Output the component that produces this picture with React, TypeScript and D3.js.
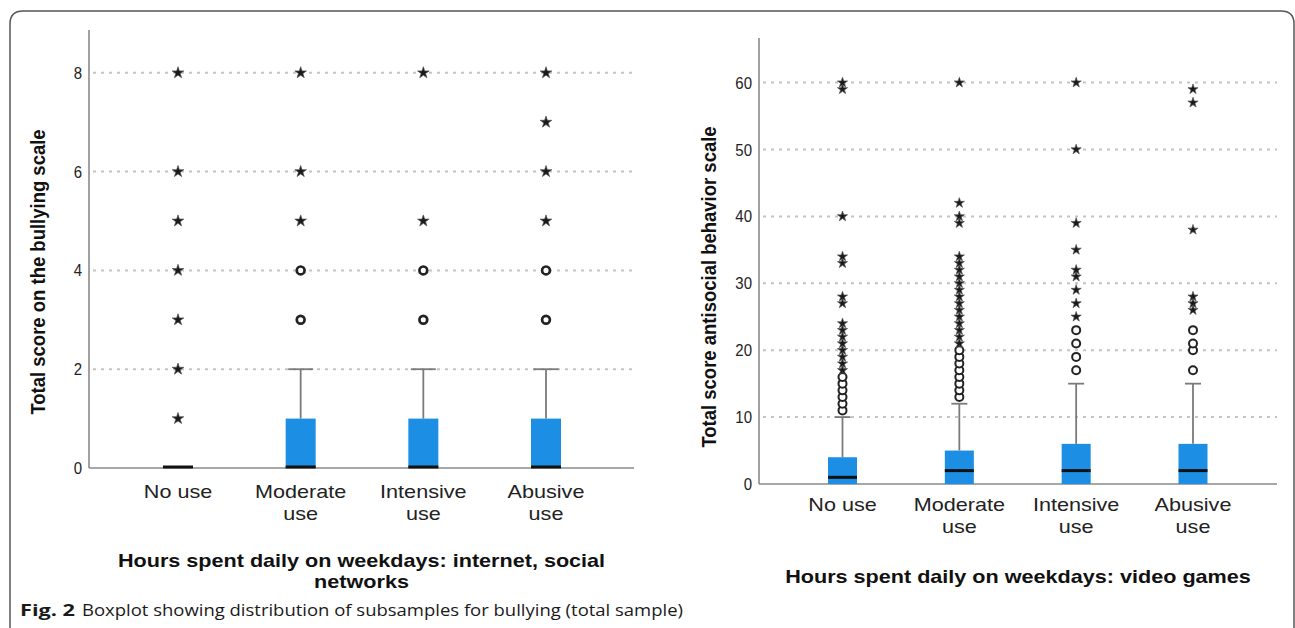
import React from "react";
import * as d3 from "d3";

// ---------- DATA ----------
const categories = ["No use", "Moderate use", "Intensive use", "Abusive use"];
const categoryLines = [["No use"], ["Moderate", "use"], ["Intensive", "use"], ["Abusive", "use"]];

// Left panel: bullying scale
const bullyTicks = [0, 2, 4, 6, 8];
const bullyQ1 = [0, 0, 0, 0];
const bullyMedian = [0, 0, 0, 0];
const bullyQ3 = [0, 1, 1, 1];
const bullyWhiskerHigh = [0, 2, 2, 2];
const bullyCircles = [[], [3, 4], [3, 4], [3, 4]];
const bullyStars = [
  [1, 2, 3, 4, 5, 6, 8],
  [5, 6, 8],
  [5, 8],
  [5, 6, 7, 8],
];

// Right panel: antisocial behavior scale
const antiTicks = [0, 10, 20, 30, 40, 50, 60];
const antiQ1 = [0, 0, 0, 0];
const antiMedian = [1, 2, 2, 2];
const antiQ3 = [4, 5, 6, 6];
const antiWhiskerHigh = [10, 12, 15, 15];
const antiCircles = [
  [11, 12, 13, 14, 15, 16],
  [13, 14, 15, 16, 17, 18, 19, 20],
  [17, 19, 21, 23],
  [17, 20, 21, 23],
];
const antiStars = [
  [17, 18, 19, 20, 21, 22, 23, 24, 27, 28, 33, 34, 40, 59, 60],
  [21, 22, 23, 24, 25, 26, 27, 28, 29, 30, 31, 32, 33, 34, 39, 40, 42, 60],
  [25, 27, 29, 31, 32, 35, 39, 50, 60],
  [26, 27, 28, 38, 57, 59],
];

// ---------- HELPERS ----------
const FONT = "'Liberation Sans', Arial, sans-serif";
const BOX_FILL = "#1c8fe4";

function SText(props: any) {
  const { x, y, sx = 1, sy = 1, rotate = 0, anchor = "middle", size = 16, weight = "normal", fill = "#1a1a1a", children } = props;
  return (
    <text
      transform={`translate(${x},${y}) rotate(${rotate}) scale(${sx},${sy})`}
      textAnchor={anchor}
      fontSize={size}
      fontWeight={weight}
      fontFamily={FONT}
      fill={fill}
    >
      {children}
    </text>
  );
}

function Panel(props: any) {
  const {
    axisX, plotRight, yTop, yBottom, yMax, ticks, catRange,
    q1, med, q3, whi, circles, stars,
    boxW, capW, starSize, circleR, circleStroke,
    yTitle, yTitleX, yTitleY, xTitleLines, xTitleY, catY, tickLabelX,
  } = props;

  const y = d3.scaleLinear().domain([0, yMax]).range([yBottom, yTop]);
  const x = d3.scalePoint<string>().domain(categories).range(catRange);
  const starPath = d3.symbol().type(d3.symbolStar).size(starSize)() as string;

  return (
    <g>
      {ticks.filter((t: number) => t !== 0).map((t: number) => (
        <line key={"g" + t} x1={axisX + 4} x2={plotRight} y1={y(t)} y2={y(t)}
          stroke="#c4c4c4" strokeWidth={2} strokeDasharray="3,5" />
      ))}
      <line x1={axisX} x2={axisX} y1={yTop} y2={yBottom} stroke="#8a8a8a" strokeWidth={1.6} />
      <line x1={axisX} x2={plotRight} y1={yBottom} y2={yBottom} stroke="#8a8a8a" strokeWidth={1.6} />
      {ticks.map((t: number) => (
        <SText key={"t" + t} x={tickLabelX} y={y(t) + 6} anchor="end" size={15} sx={1} sy={1.12} fill="#222">
          {t}
        </SText>
      ))}
      {categories.map((c, i) => {
        const cx = x(c) as number;
        return (
          <g key={"b" + c}>
            {whi[i] > q3[i] && (
              <>
                <line x1={cx} x2={cx} y1={y(q3[i])} y2={y(whi[i])} stroke="#7a7a7a" strokeWidth={1.8} />
                <line x1={cx - capW / 2} x2={cx + capW / 2} y1={y(whi[i])} y2={y(whi[i])} stroke="#7a7a7a" strokeWidth={1.8} />
              </>
            )}
            {q3[i] > q1[i] && (
              <rect x={cx - boxW / 2} y={y(q3[i])} width={boxW} height={y(q1[i]) - y(q3[i])} fill={BOX_FILL} />
            )}
            <line x1={cx - boxW / 2} x2={cx + boxW / 2} y1={y(med[i]) - (med[i] === 0 ? 1 : 0)} y2={y(med[i]) - (med[i] === 0 ? 1 : 0)}
              stroke="#111" strokeWidth={3} />
            {circles[i].map((v: number, k: number) => (
              <circle key={"c" + k} cx={cx} cy={y(v)} r={circleR} fill="white" stroke="#222" strokeWidth={circleStroke} />
            ))}
            {stars[i].map((v: number, k: number) => (
              <path key={"s" + k} d={starPath} transform={`translate(${cx},${y(v)})`} fill="#1a1a1a" stroke="#555" strokeWidth={0.7} />
            ))}
          </g>
        );
      })}
      {categories.map((c, i) =>
        categoryLines[i].map((ln, k) => (
          <SText key={"cl" + i + k} x={x(c) as number} y={catY + k * 22} size={18} sx={1.2} fill="#222">
            {ln}
          </SText>
        ))
      )}
      <SText x={yTitleX} y={yTitleY} rotate={-90} size={18.5} weight="bold" sx={1} sy={1.05} fill="#111">
        {yTitle}
      </SText>
      {xTitleLines.map((ln: string, k: number) => (
        <SText key={"xt" + k} x={(axisX + plotRight) / 2} y={xTitleY + k * 21} size={18} weight="bold" sx={1.2} fill="#111">
          {ln}
        </SText>
      ))}
    </g>
  );
}

export default function App() {
  return (
    <svg width={1295} height={628} style={{ position: "absolute", left: 0, top: 0, background: "white" }}>
      <rect x={0} y={0} width={1295} height={628} fill="white" />
      <path d="M10,640 L10,24 Q10,11 23,11 L1281,11 Q1294,11 1294,24 L1294,640" fill="none" stroke="#555" strokeWidth={1.5} />

      <Panel
        axisX={89} plotRight={634} yTop={30} yBottom={468} yMax={(468 - 30) / 49.4}
        ticks={bullyTicks} catRange={[178, 546]}
        q1={bullyQ1} med={bullyMedian} q3={bullyQ3} whi={bullyWhiskerHigh}
        circles={bullyCircles} stars={bullyStars}
        boxW={30} capW={25} starSize={42} circleR={3.9} circleStroke={2.7}
        yTitle="Total score on the bullying scale" yTitleX={45} yTitleY={272}
        xTitleLines={["Hours spent daily on weekdays: internet, social", "networks"]} xTitleY={567}
        catY={498} tickLabelX={82}
      />

      <Panel
        axisX={759} plotRight={1277} yTop={38} yBottom={484} yMax={(484 - 38) / 6.69}
        ticks={antiTicks} catRange={[842.5, 1193]}
        q1={antiQ1} med={antiMedian} q3={antiQ3} whi={antiWhiskerHigh}
        circles={antiCircles} stars={antiStars}
        boxW={29} capW={16} starSize={32} circleR={4} circleStroke={2}
        yTitle="Total score antisocial behavior scale" yTitleX={716} yTitleY={287}
        xTitleLines={["Hours spent daily on weekdays: video games"]} xTitleY={583}
        catY={511} tickLabelX={752}
      />

      <text x={20} y={616} fontFamily="'Open Sans', 'Noto Sans', sans-serif" fontSize={16} fill="#1a1a1a">
        <tspan fontWeight="bold" textLength={55} lengthAdjust="spacingAndGlyphs">Fig. 2</tspan>
        <tspan x={82} textLength={601} lengthAdjust="spacingAndGlyphs">Boxplot showing distribution of subsamples for bullying (total sample)</tspan>
      </text>
    </svg>
  );
}
